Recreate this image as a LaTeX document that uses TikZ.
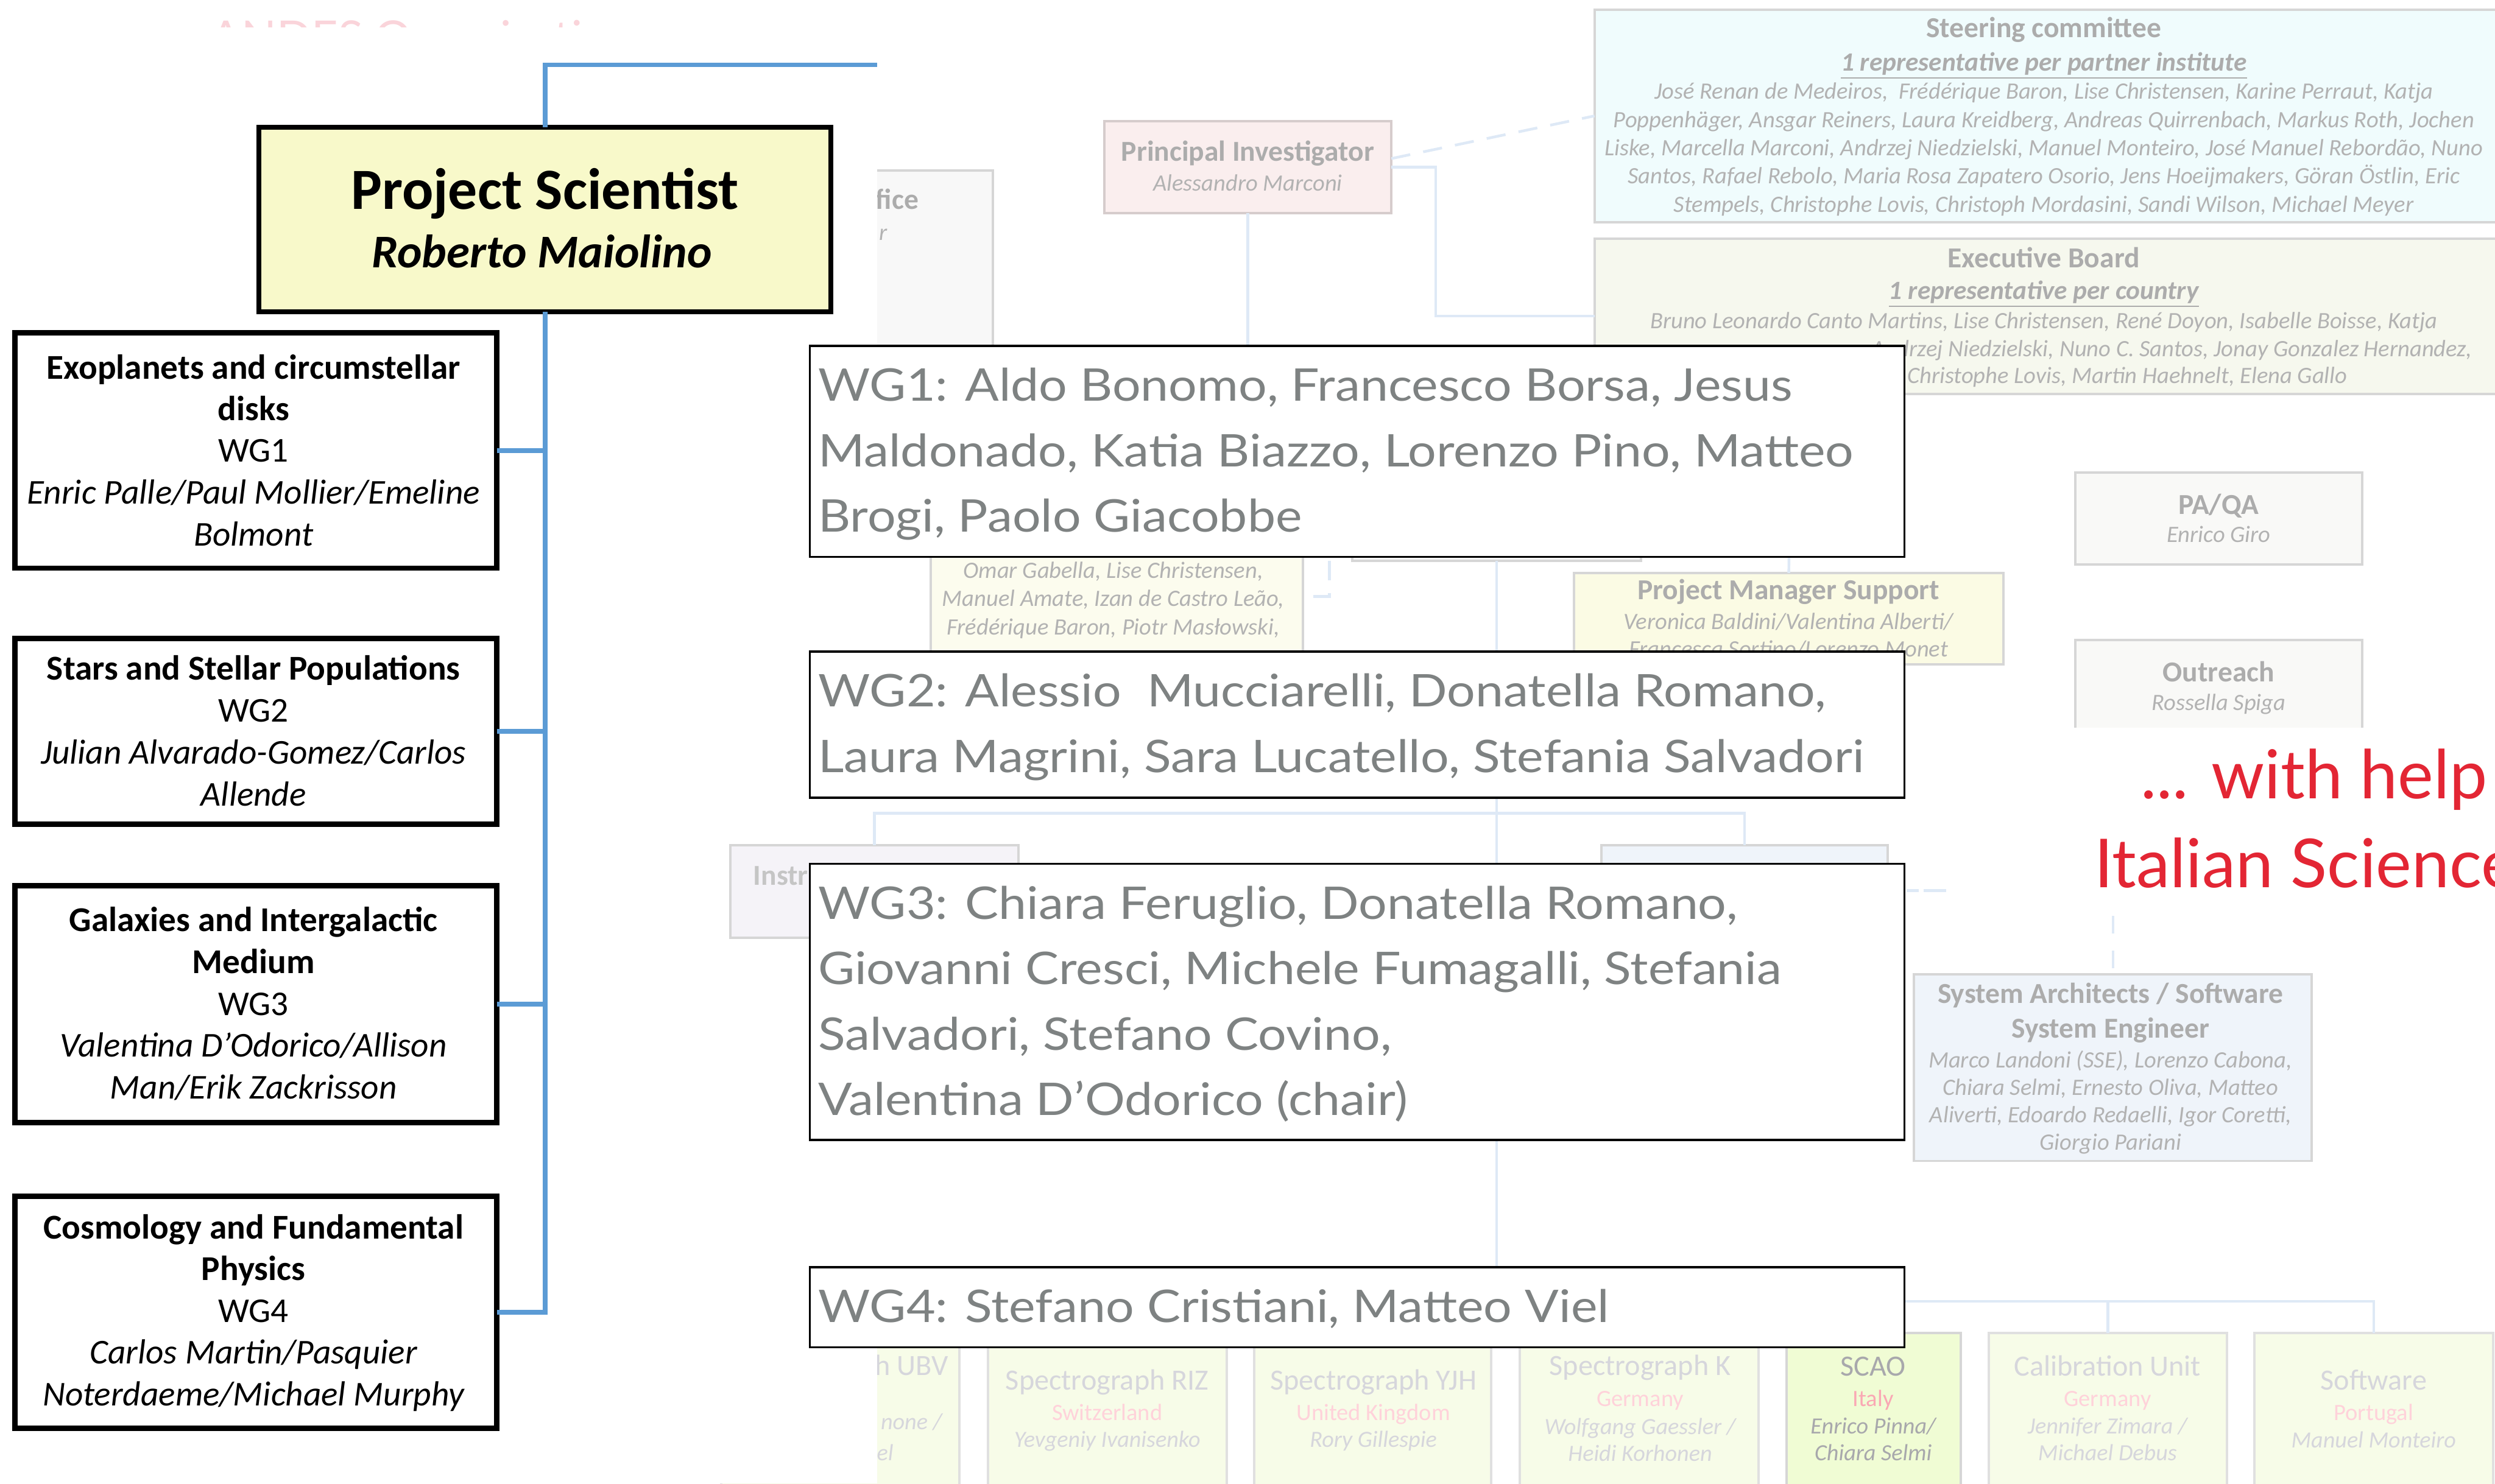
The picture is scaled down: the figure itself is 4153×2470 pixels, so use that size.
\documentclass[tikz,border=0pt]{standalone}
\usepackage{fontspec}
\setmainfont{Carlito}
\newfontfamily\wgf{Lato}
\newfontfamily\wgfs[FakeStretch=1.115]{Lato}
\usetikzlibrary{fit}
\newcommand\fs[1]{\fontsize{#1pt}{#1pt}\selectfont}
\definecolor{blueln}{RGB}{91,155,213}
\definecolor{psfill}{RGB}{248,249,202}
\definecolor{wgtxt}{RGB}{126,130,130}
\definecolor{redtxt}{RGB}{227,38,52}
\definecolor{fline}{RGB}{214,214,214}
\definecolor{pibord}{RGB}{214,204,204}
\definecolor{fconnc}{RGB}{222,233,246}
\definecolor{ftit}{RGB}{172,172,172}
\definecolor{fital}{RGB}{178,178,178}
\definecolor{stfill}{RGB}{240,252,253}
\definecolor{exfill}{RGB}{246,248,238}
\definecolor{pifill}{RGB}{250,238,238}
\definecolor{pofill}{RGB}{248,248,248}
\definecolor{ylfill}{RGB}{252,252,238}
\definecolor{pmfill}{RGB}{251,251,228}
\definecolor{qafill}{RGB}{249,249,247}
\definecolor{safill}{RGB}{239,244,250}
\definecolor{infill}{RGB}{245,243,248}
\definecolor{spfill}{RGB}{247,252,232}
\definecolor{scfill}{RGB}{240,252,212}
\definecolor{spline}{RGB}{224,224,224}
\definecolor{sptxt}{RGB}{214,214,220}
\definecolor{sppink}{RGB}{255,210,218}
\definecolor{sctxt}{RGB}{168,168,172}
\definecolor{scpink}{RGB}{250,168,180}
\definecolor{andes}{RGB}{250,212,218}
\begin{document}
\begin{tikzpicture}[x=0.01cm,y=-0.01cm,
  every node/.style={inner sep=0pt,outer sep=0pt},
  bl/.style={draw=blueln,line width=0.08cm},
  lbox/.style={draw=black,fill=white,line width=0.09cm},
  psbox/.style={draw=black,fill=psfill,line width=0.08cm},
  wgbox/.style={draw=black,fill=white,line width=0.035cm},
  fbox/.style={draw=fline,line width=0.04cm},
  spbox/.style={draw=spline,fill=spfill,line width=0.04cm},
  fconn/.style={draw=fconnc,line width=0.045cm},
  fdash/.style={fconn,dash pattern=on 0.32cm off 0.22cm},
  fdashb/.style={fconn,dash pattern=on 0.29cm off 0.29cm},
  ftitle/.style={anchor=base,text=ftit,font=\fs{13.7}\bfseries},
  fsub/.style={anchor=base,text=ftit,font=\fs{12.5}\bfseries\itshape},
  fname/.style={anchor=base,text=fital,font=\fs{11.1}\itshape},
  sptitle/.style={anchor=base,text=sptxt,font=\fs{13.9}},
  spcountry/.style={anchor=base,text=sppink,font=\fs{11.1}},
  spname/.style={anchor=base,text=sptxt,font=\fs{11}\itshape},
  ltb/.style={anchor=base,font=\fs{16.5}\bfseries},
  ltr/.style={anchor=base,font=\fs{16.5}},
  lti/.style={anchor=base,font=\fs{16.5}\itshape},
  wgt/.style={anchor=base west,text=wgtxt,font=\wgfs\fs{21.3}},
  redt/.style={anchor=base west,text=redtxt,font=\wgf\fs{32}}]
\useasboundingbox (0,0) rectangle (4153,2470);
\fill[white] (0,0) rectangle (4153,2470);

% ---------- faint background chart ----------
\begin{scope}
\clip (0,0) rectangle (1460,46);
\node[anchor=base west,text=andes,font=\wgf\fs{21.8}] (andes) at (350,90) {ANDES Organisation};
\end{scope}

\node[fbox,fill=stfill,fit={(2654,16) (4230,370)}] (steer) {};
\node[ftitle] (st0) at (3402,62) {Steering committee};
\node[fsub] (st1) at (3402,118) {\underline{1 representative per partner institute}};
\node[fname] (st2) at (3402,165) {José Renan de Medeiros,~ Frédérique Baron, Lise Christensen, Karine Perraut, Katja};
\node[fname] (st3) at (3402,212) {Poppenhäger, Ansgar Reiners, Laura Kreidberg, Andreas Quirrenbach, Markus Roth, Jochen};
\node[fname] (st4) at (3402,259) {Liske, Marcella Marconi, Andrzej Niedzielski, Manuel Monteiro, José Manuel Rebordão, Nuno};
\node[fname] (st5) at (3402,306) {Santos, Rafael Rebolo, Maria Rosa Zapatero Osorio, Jens Hoeijmakers, Göran Östlin, Eric};
\node[fname] (st6) at (3402,353) {Stempels, Christophe Lovis, Christoph Mordasini, Sandi Wilson, Michael Meyer};

\node[fbox,fill=exfill,fit={(2654,397) (4230,656)}] (exec) {};
\node[ftitle] (ex0) at (3402,446) {Executive Board};
\node[fsub] (ex1) at (3402,498) {\underline{1 representative per country}};
\node[fname] (ex2) at (3402,547) {Bruno Leonardo Canto Martins, Lise Christensen, René Doyon, Isabelle Boisse, Katja};
\node[fname,anchor=base east] (ex3) at (4115,594) {Andrzej Niedzielski, Nuno C. Santos, Jonay Gonzalez Hernandez,};
\node[fname,anchor=base east] (ex4) at (3907,638) {Christophe Lovis, Martin Haehnelt, Elena Gallo};

\node[fbox,draw=pibord,fill=pifill,fit={(1838,202) (2316,355)}] (pi) {};
\node[ftitle] (pi0) at (2077,268) {Principal Investigator};
\node[fname] (pi1) at (2077,318) {Alessandro Marconi};
\coordinate (pidown) at (2077,620);
\draw[fconn] (pi.south) -- (pidown);
\draw[fconn] (pi.east) -- ++(74,0) |- (exec.west);
\coordinate (pid) at (2316,264);
\draw[fdash] (pid) -- (steer.west);

\node[fbox,fill=pofill,fit={(1300,284) (1653,700)}] (po) {};
\node[ftitle,anchor=base east] (po0) at (1529,348) {fice};
\node[fname,anchor=base east] (po1) at (1477,400) {r};

\node[fbox,fill=ylfill,fit={(1549,786) (2169,1200)}] (yl) {};
\node[fname] (yl0) at (1853,963) {Omar Gabella, Lise Christensen,};
\node[fname] (yl1) at (1853,1009) {Manuel Amate, Izan de Castro Leão,};
\node[fname] (yl2) at (1853,1057) {Frédérique Baron, Piotr Masłowski,};
\coordinate (ylc) at (2213,934);
\draw[fdash] (ylc) |- (yl.east);

\node[fbox,fill=pofill,fit={(2251,800) (2731,934)}] (hid) {};

\node[fbox,fill=pmfill,fit={(2620,954) (3335,1106)}] (pm) {};
\begin{scope}
\clip (2600,940) rectangle (3400,1098);
\node[ftitle] (pm0) at (2977,998) {Project Manager Support};
\node[fname] (pm1) at (2977,1048) {Veronica Baldini/Valentina Alberti/};
\node[fname] (pm2) at (2977,1094) {Francesca Sortino/Lorenzo Monet};
\end{scope}
\coordinate (pmup) at (2978,900);
\draw[fconn] (pm.north) -- (pmup);

\node[fbox,fill=qafill,fit={(3454,787) (3932,940)}] (qa) {};
\node[ftitle] (qa0) at (3693,856) {PA/QA};
\node[fname] (qa1) at (3693,903) {Enrico Giro};
\node[fbox,fill=qafill,fit={(3454,1066) (3932,1330)}] (out) {};
\node[ftitle] (out0) at (3693,1135) {Outreach};
\node[fname] (out1) at (3693,1183) {Rossella Spiga};

\node[fbox,fill=safill,fit={(2666,1407) (3142,1600)}] (bx3) {};

\node[fbox,fill=safill,fit={(3186,1622) (3848,1933)}] (sa) {};
\node[ftitle] (sa0) at (3513,1670) {System Architects / Software};
\node[ftitle] (sa1) at (3513,1728) {System Engineer};
\node[fname] (sa2) at (3513,1778) {Marco Landoni (SSE), Lorenzo Cabona,};
\node[fname] (sa3) at (3513,1824) {Chiara Selmi, Ernesto Oliva, Matteo};
\node[fname] (sa4) at (3513,1869) {Aliverti, Edoardo Redaelli, Igor Coretti,};
\node[fname] (sa5) at (3513,1915) {Giorgio Pariani};
\coordinate (sad) at (3517,1525);
\draw[fdashb] (sad) -- (sa.north);
\coordinate (hd1) at (3174,1483);
\coordinate (hd2) at (3239,1483);
\draw[fconn,dash pattern=on 0.2cm off 0.08cm on 0.37cm off 0.1cm] (hd1) -- (hd2);

% spectrograph row
\node[spbox,fit={(1200,2219) (1597,2530)}] (ubv) {};
\node[sptitle,anchor=base east] (ubv0) at (1578,2290) {h UBV};
\node[spname,anchor=base east] (ubv1) at (1568,2380) {none /};
\node[spname,anchor=base east] (ubv2) at (1487,2432) {el};
\node[spbox,fit={(1645,2219) (2042,2530)}] (riz) {};
\node[sptitle] (riz0) at (1843,2314) {Spectrograph RIZ};
\node[spcountry] (riz1) at (1843,2365) {Switzerland};
\node[spname] (riz2) at (1843,2410) {Yevgeniy Ivanisenko};
\node[spbox,fit={(2088,2219) (2482,2530)}] (yjh) {};
\node[sptitle] (yjh0) at (2286,2314) {Spectrograph YJH};
\node[spcountry] (yjh1) at (2286,2365) {United Kingdom};
\node[spname] (yjh2) at (2286,2410) {Rory Gillespie};
\node[spbox,fit={(2530,2219) (2927,2530)}] (kk) {};
\node[sptitle] (kk0) at (2730,2290) {Spectrograph K};
\node[spcountry] (kk1) at (2730,2342) {Germany};
\node[spname] (kk2) at (2730,2388) {Wolfgang Gaessler /};
\node[spname] (kk3) at (2730,2433) {Heidi Korhonen};
\node[spbox,fill=scfill,draw=fline,fit={(2974,2219) (3264,2530)}] (scao) {};
\node[sptitle,text=sctxt] (sc0) at (3118,2291) {SCAO};
\node[spcountry,text=scpink] (sc1) at (3118,2342) {Italy};
\node[spname,text=sctxt] (sc2) at (3118,2387) {Enrico Pinna/};
\node[spname,text=sctxt] (sc3) at (3118,2432) {Chiara Selmi};
\node[spbox,fit={(3310,2219) (3707,2530)}] (cal) {};
\node[sptitle] (cal0) at (3508,2291) {Calibration Unit};
\node[spcountry] (cal1) at (3508,2342) {Germany};
\node[spname] (cal2) at (3508,2387) {Jennifer Zimara /};
\node[spname] (cal3) at (3508,2432) {Michael Debus};
\node[spbox,fit={(3752,2219) (4150,2530)}] (sw) {};
\node[sptitle] (sw0) at (3951,2314) {Software};
\node[spcountry] (sw1) at (3951,2365) {Portugal};
\node[spname] (sw2) at (3951,2411) {Manuel Monteiro};

\coordinate (bus) at (2491,2167);
\draw[fconn] (hid.south) -- (bus) -| (sw.north);
\draw[fconn] (cal.north) -- (cal.north |- bus);

% ---------- cover panels ----------
\fill[white] (0,46) rectangle (1460,2470);

\node[fbox,fill=infill,fit={(1216,1407) (1695,1561)}] (instr) {};
\node[ftitle,anchor=base west,text=ftit!70] (in0) at (1254,1474) {Instr};
\draw[fconn] (instr.north) -- ++(0,-53) -| (bx3.north);

\fill[white] (3240,1212) rectangle (4160,1517);
\node[redt] (red1) at (3563,1330) {... with help};
\node[redt] (red2) at (3486,1478) {Italian Science};

% ---------- main left panel ----------
\node[psbox,fit={(431,212) (1383,519)}] (ps) {};
\node[anchor=base,font=\fs{27.6}\bfseries] (ps0) at (907,348) {Project Scientist};
\node[anchor=base,font=\fs{22.2}\bfseries\itshape] (ps1) at (902,446) {Roberto Maiolino};

\node[lbox,fit={(25,554) (827,946)}] (lb1) {};
\node[ltb] (l11) at (422,631) {Exoplanets and circumstellar};
\node[ltb] (l12) at (422,700) {disks};
\node[ltr] (l13) at (422,769) {WG1};
\node[lti] (l14) at (422,839) {Enric Palle/Paul Mollier/Emeline};
\node[lti] (l15) at (422,909) {Bolmont};

\node[lbox,fit={(25,1063) (827,1372)}] (lb2) {};
\node[ltb] (l21) at (422,1132) {Stars and Stellar Populations};
\node[ltr] (l22) at (422,1202) {WG2};
\node[lti] (l23) at (422,1272) {Julian Alvarado-Gomez/Carlos};
\node[lti] (l24) at (422,1342) {Allende};

\node[lbox,fit={(25,1475) (827,1869)}] (lb3) {};
\node[ltb] (l31) at (422,1551) {Galaxies and Intergalactic};
\node[ltb] (l32) at (422,1621) {Medium};
\node[ltr] (l33) at (422,1691) {WG3};
\node[lti] (l34) at (422,1760) {Valentina D’Odorico/Allison};
\node[lti] (l35) at (422,1830) {Man/Erik Zackrisson};

\node[lbox,fit={(25,1992) (827,2378)}] (lb4) {};
\node[ltb] (l41) at (422,2063) {Cosmology and Fundamental};
\node[ltb] (l42) at (422,2132) {Physics};
\node[ltr] (l43) at (422,2202) {WG4};
\node[lti] (l44) at (422,2271) {Carlos Martin/Pasquier};
\node[lti] (l45) at (422,2341) {Noterdaeme/Michael Murphy};

\coordinate (btop) at (1460,108);
\draw[bl] (ps.north) |- (btop);
\draw[bl] (ps.south) -- (ps.south |- lb4.east) -- (lb4.east);
\draw[bl] (lb1.east) -- (lb1.east -| ps.south);
\draw[bl] (lb2.east) -- (lb2.east -| ps.south);
\draw[bl] (lb3.east) -- (lb3.east -| ps.south);

% ---------- WG member boxes ----------
\node[wgbox,fit={(1348,576) (3170,927)}] (wg1) {};
\node[wgt] (w11) at (1362,668) {WG1: Aldo Bonomo, Francesco Borsa, Jesus};
\node[wgt] (w12) at (1362,777) {Maldonado, Katia Biazzo, Lorenzo Pino, Matteo};
\node[wgt] (w13) at (1362,886) {Brogi, Paolo Giacobbe};

\node[wgbox,fit={(1348,1085) (3170,1328)}] (wg2) {};
\node[wgt] (w21) at (1362,1177) {WG2: Alessio~ Mucciarelli, Donatella Romano,};
\node[wgt] (w22) at (1362,1286) {Laura Magrini, Sara Lucatello, Stefania Salvadori};

\node[wgbox,fit={(1348,1438) (3170,1898)}] (wg3) {};
\node[wgt] (w31) at (1362,1530) {WG3: Chiara Feruglio, Donatella Romano,};
\node[wgt] (w32) at (1362,1639) {Giovanni Cresci, Michele Fumagalli, Stefania};
\node[wgt] (w33) at (1362,1748) {Salvadori, Stefano Covino,};
\node[wgt] (w34) at (1362,1857) {Valentina D’Odorico (chair)};

\node[wgbox,fit={(1348,2110) (3170,2243)}] (wg4) {};
\node[wgt] (w41) at (1362,2202) {WG4: Stefano Cristiani, Matteo Viel};
\end{tikzpicture}
\end{document}
